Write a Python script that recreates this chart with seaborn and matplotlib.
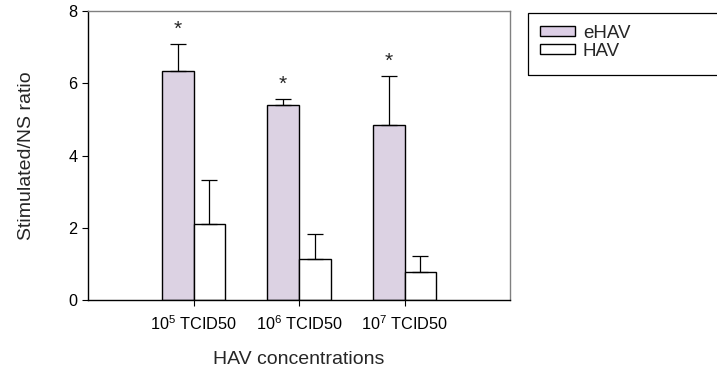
import matplotlib
matplotlib.use("Agg")
import matplotlib.pyplot as plt
import seaborn as sns
import pandas as pd
from matplotlib.patches import Patch, Rectangle

# valores
concentraciones = [r"10$^{\mathregular{5}}$ TCID50", r"10$^{\mathregular{6}}$ TCID50", r"10$^{\mathregular{7}}$ TCID50"]
grupos = ["eHAV", "HAV"]
media_ehav = [6.35, 5.39, 4.85]
error_ehav = [0.75, 0.18, 1.36]
media_hav = [2.09, 1.13, 0.77]
error_hav = [1.24, 0.69, 0.46]
asteriscos = ["*", "*", "*"]

sns.set_style("ticks")
plt.rcParams["font.family"] = ["Liberation Sans", "DejaVu Sans"]
plt.rcParams["mathtext.fontset"] = "custom"
plt.rcParams["mathtext.rm"] = "Liberation Sans"

df = pd.DataFrame({
    "conc": concentraciones * 2,
    "grupo": [grupos[0]] * 3 + [grupos[1]] * 3,
    "ratio": media_ehav + media_hav,
})

fig = plt.figure(figsize=(7.17, 3.71), dpi=100)
ax = fig.add_axes([88 / 717, 1 - 300 / 371, 422 / 717, 289 / 371])

sns.barplot(data=df, x="conc", y="ratio", hue="grupo", order=concentraciones,
            hue_order=grupos, palette={"eHAV": "#DDCFE6", "HAV": "white"},
            width=0.6, edgecolor="black", linewidth=1.0, errorbar=None,
            legend=False, ax=ax)

# barras de error (solo hacia arriba) y asteriscos
barras = ax.patches
for i in range(3):
    for j, (m, e) in enumerate([(media_ehav[i], error_ehav[i]), (media_hav[i], error_hav[i])]):
        p = barras[j * 3 + i]
        xc = p.get_x() + p.get_width() / 2
        ax.errorbar(xc, m, yerr=[[0], [e]], fmt="none", ecolor="black",
                    elinewidth=0.9, capsize=5.5, capthick=0.9)
    p = barras[i]
    xc = p.get_x() + p.get_width() / 2
    ax.text(xc, media_ehav[i] + error_ehav[i] + 0.4, asteriscos[i],
            ha="center", va="center", fontsize=15)

ax.set_xlim(-1, 3)
ax.set_ylim(0, 8)
ax.set_yticks([0, 2, 4, 6, 8])
ax.tick_params(axis="both", labelsize=11.7, length=4, width=0.8, colors="black")
ax.tick_params(axis="x", pad=6)
ax.set_ylabel("Stimulated/NS ratio", fontsize=14, labelpad=24)
ax.set_xlabel("HAV concentrations", fontsize=14, labelpad=13)

for lado in ["left", "bottom"]:
    ax.spines[lado].set_color("black")
    ax.spines[lado].set_linewidth(1.0)
for lado in ["top", "right"]:
    ax.spines[lado].set_visible(True)
    ax.spines[lado].set_color("#808080")
    ax.spines[lado].set_linewidth(1.0)

# leyenda en caja recortada a la derecha
handles = [Patch(facecolor="#DDCFE6", edgecolor="black", linewidth=1.0),
           Patch(facecolor="white", edgecolor="black", linewidth=1.0)]
leg = fig.legend(handles, grupos, loc="upper left",
                 bbox_to_anchor=(537 / 717, 1 - 22 / 371),
                 frameon=False, fontsize=13.5,
                 handlelength=1.9, handleheight=0.4, handletextpad=0.4,
                 labelspacing=0.05, borderpad=0.15, borderaxespad=0)
fig.patches.append(Rectangle((528 / 717, 1 - 75 / 371), 220 / 717, 62 / 371,
                             transform=fig.transFigure, fill=False,
                             edgecolor="black", linewidth=0.9))

fig.savefig("out.png", dpi=100)
